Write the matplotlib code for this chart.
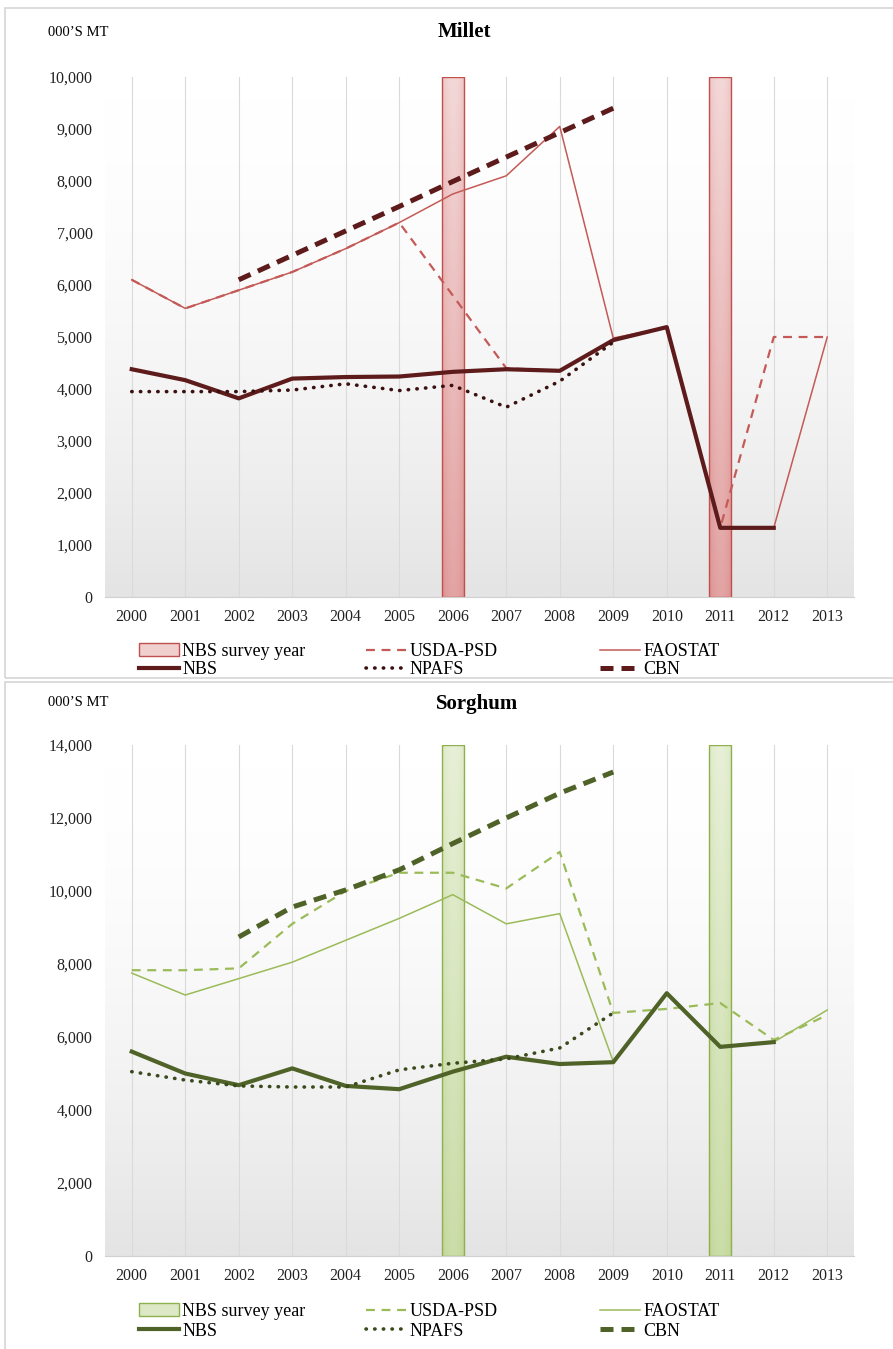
import numpy as np
import matplotlib
matplotlib.use("Agg")
import matplotlib.pyplot as plt
from matplotlib.patches import Patch, Rectangle
from matplotlib.lines import Line2D
from matplotlib.colors import LinearSegmentedColormap
from matplotlib.ticker import FuncFormatter, MultipleLocator

plt.rcParams['font.family'] = ['Liberation Serif', 'DejaVu Serif']

nan = np.nan
years = [str(y) for y in range(2000, 2014)]
survey_years = ['2006', '2011']

# ---- Millet (000'S MT) ----
millet_survey = [10000, 10000]
millet_usda = [6100, 5550, 5900, 6250, 6700, 7200, 5800, 4400, 4350, 4940, 5190, 1330, 5000, 5000]
millet_fao = [6100, 5550, 5900, 6250, 6700, 7200, 7750, 8100, 9050, 4980, 5190, 1330, 1330, 5000]
millet_nbs = [4380, 4170, 3820, 4200, 4230, 4240, 4330, 4380, 4350, 4940, 5190, 1330, 1330, nan]
millet_npafs = [3950, 3950, 3950, 3980, 4100, 3970, 4070, 3650, 4150, 4900, nan, nan, nan, nan]
millet_cbn = [nan, nan, 6100, 6570, 7040, 7510, 7990, 8460, 8930, 9400, nan, nan, nan, nan]

# ---- Sorghum (000'S MT) ----
sorghum_survey = [14000, 14000]
sorghum_usda = [7830, 7830, 7880, 9100, 10000, 10500, 10500, 10070, 11070, 6660, 6770, 6930, 5920, 6600]
sorghum_fao = [7750, 7150, 7600, 8050, 8650, 9250, 9900, 9100, 9380, 5330, 7200, 5730, 5860, 6740]
sorghum_nbs = [5600, 5000, 4680, 5140, 4660, 4570, 5050, 5460, 5260, 5310, 7200, 5730, 5860, nan]
sorghum_npafs = [5050, 4820, 4660, 4630, 4630, 5100, 5280, 5400, 5700, 6660, nan, nan, nan, nan]
sorghum_cbn = [nan, nan, 8740, 9560, 10030, 10580, 11300, 12000, 12680, 13260, nan, nan, nan, nan]

W, H = 893, 1349
fig = plt.figure(figsize=(W / 100, H / 100), dpi=100)


def box(l, t, r, b):
    return [l / W, 1 - b / H, (r - l) / W, (b - t) / H]


bg_cmap = LinearSegmentedColormap.from_list('bg', ['#ffffff', '#e4e4e4'])
DOTS = (0.1, 2.3)


def draw_panel(ax, survey, usda, fao, nbs, npafs, cbn, ymax, ystep, pal):
    x = np.arange(len(years))
    # plot area gradient
    g = (np.linspace(0, 1, 256) ** 1.8)[:, None]
    ax.imshow(g, extent=[0, 1, 0, 1], transform=ax.transAxes, aspect='auto',
              cmap=bg_cmap, vmin=0, vmax=1, zorder=0)

    # survey year bars with gradient fill
    idx = [years.index(s) for s in survey_years]
    bars = ax.bar(idx, survey, width=0.42, facecolor='none', edgecolor=pal['edge'],
                  lw=1.0, zorder=2)
    bar_cmap = LinearSegmentedColormap.from_list('bar', [pal['bar_top'], pal['bar_bot']])
    v = np.linspace(0, 1, 200)[:, None]
    hh = np.abs(np.linspace(-1, 1, 30))[None, :]
    val = np.clip(0.15 + 0.65 * v + 0.25 * hh ** 2, 0, 1)
    for b in bars:
        ax.imshow(val, extent=[b.get_x(), b.get_x() + b.get_width(), 0, b.get_height()],
                  aspect='auto', cmap=bar_cmap, vmin=0, vmax=1, zorder=1.5)

    ax.plot(x, usda, color=pal['light'], lw=1.6, dashes=(4, 3), zorder=3)
    ax.plot(x, fao, color=pal['light'], lw=1.1, zorder=3)
    ax.plot(x, nbs, color=pal['dark'], lw=3.0, zorder=4)
    ax.plot(x, npafs, color=pal['dot'], lw=2.6, dashes=DOTS,
            dash_capstyle='round', zorder=4)
    ax.plot(x, cbn, color=pal['dark'], lw=3.6, dashes=(2.6, 1.6), zorder=5)

    ax.set_xlim(-0.5, len(years) - 0.5)
    ax.set_ylim(0, ymax)
    ax.set_xticks(x)
    ax.set_xticklabels(years)
    ax.yaxis.set_major_locator(MultipleLocator(ystep))
    ax.yaxis.set_major_formatter(FuncFormatter(lambda val, p: f'{int(val):,}'))
    ax.tick_params(axis='both', length=0, labelsize=11.5, colors='#222222')
    ax.tick_params(axis='x', pad=9)
    ax.tick_params(axis='y', pad=9)
    ax.xaxis.grid(True, color='#dadada', lw=0.8)
    ax.set_axisbelow(True)
    for s in ['top', 'right', 'left']:
        ax.spines[s].set_visible(False)
    ax.spines['bottom'].set_color('#d0d0d0')
    ax.set_facecolor('none')


def add_legend(pal, row_top, spacing):
    cols = [
        ([Patch(facecolor=pal['bar_mid'], edgecolor=pal['edge'], lw=1.0),
          Line2D([], [], color=pal['dark'], lw=3.0)], ['NBS survey year', 'NBS'], 139),
        ([Line2D([], [], color=pal['light'], lw=1.6, dashes=(4, 3)),
          Line2D([], [], color=pal['dot'], lw=2.6, dashes=DOTS, dash_capstyle='round')],
         ['USDA-PSD', 'NPAFS'], 366),
        ([Line2D([], [], color=pal['light'], lw=1.1),
          Line2D([], [], color=pal['dark'], lw=3.6, dashes=(2.6, 1.6))],
         ['FAOSTAT', 'CBN'], 600),
    ]
    for handles, labels, xpx in cols:
        fig.legend(handles, labels, loc='upper left',
                   bbox_to_anchor=(xpx / W, 1 - row_top / H), frameon=False,
                   borderpad=0, borderaxespad=0, handlelength=2.2,
                   handletextpad=0.2, labelspacing=spacing, fontsize=13)


red = dict(light='#c45a57', dark='#5e1b1b', dot='#3a1010', edge='#c0504d',
           bar_top='#f7e4e4', bar_bot='#dd9493', bar_mid='#f0cfcf')
green = dict(light='#9bbb59', dark='#4f6228', dot='#3b4a1c', edge='#8eb04e',
             bar_top='#eef4e2', bar_bot='#c2d79a', bar_mid='#dce8c6')

# panel frames
fig.patches.append(Rectangle((5 / W, 1 - 678 / H), 1.0, 670 / H,
                             transform=fig.transFigure, fill=False,
                             edgecolor='#d6d6d6', lw=1.2))
fig.patches.append(Rectangle((5 / W, -0.01), 1.0, (H - 682) / H + 0.01,
                             transform=fig.transFigure, fill=False,
                             edgecolor='#d6d6d6', lw=1.2))

ax1 = fig.add_axes(box(105, 77, 854, 597))
draw_panel(ax1, millet_survey, millet_usda, millet_fao, millet_nbs, millet_npafs,
           millet_cbn, 10000, 1000, red)
fig.text(464 / W, 1 - 32 / H, 'Millet', ha='center', va='center',
         fontsize=15, fontweight='bold')
fig.text(48 / W, 1 - 33 / H, '000\u2019S MT', ha='left', va='center', fontsize=10.5)
add_legend(red, 643, 0.05)

ax2 = fig.add_axes(box(105, 745, 854, 1256))
draw_panel(ax2, sorghum_survey, sorghum_usda, sorghum_fao, sorghum_nbs, sorghum_npafs,
           sorghum_cbn, 14000, 2000, green)
fig.text(477 / W, 1 - 704 / H, 'Sorghum', ha='center', va='center',
         fontsize=15, fontweight='bold')
fig.text(48 / W, 1 - 703 / H, '000\u2019S MT', ha='left', va='center', fontsize=10.5)
add_legend(green, 1303, 0.15)

fig.savefig('out.png', dpi=100)
